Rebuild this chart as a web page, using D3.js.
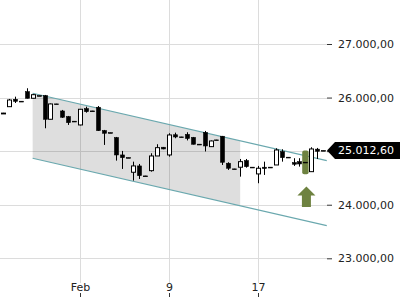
<!DOCTYPE html>
<html>
<head>
<meta charset="utf-8">
<script src="https://cdn.jsdelivr.net/npm/d3@7/dist/d3.min.js"></script>
<style>
  html, body { margin: 0; padding: 0; background: #fff; }
  svg { display: block; font-family: 'DejaVu Sans', sans-serif; }
</style>
</head>
<body>
<div id="chart"></div>
<script>
// candle data (one entry per period)
const opens  = [25705, 25830, 25968, 25932, 26110, 25987, 26037, 26036, 25595, 25882,
                25750, 25644, 25559, 25489, 25793, 25751, 25819, 25383, 25346, 25252,
                24929, 24880, 24606, 24724, 24538, 24636, 24910, 25073, 24929, 25306,
                25266, 25312, 25256, 25130, 25349, 25084, 25210, 25278, 24774, 24669,
                24700, 24823, 24701, 24575, 24700, 24701, 24742, 24991, 24887, 24785,
                24804, 24794, 24617, 25037, 25013]
const closes = [25710, 25955, 25931, 25930, 25987, 26054, 26035, 25595, 25881, 25880,
                25633, 25532, 25557, 25782, 25737, 25749, 25383, 25334, 25344, 24929,
                24879, 24878, 24724, 24543, 24536, 24910, 25065, 25041, 25302, 25265,
                25264, 25237, 25129, 25128, 25097, 25190, 25208, 24793, 24681, 24667,
                24804, 24711, 24699, 24681, 24677, 24699, 25022, 24879, 24885, 24756,
                24761, 24792, 25041, 24998, 25012.6]
const highs  = [25715, 25974, 26017, 25934, 26174, 26067, 26039, 26049, 25890, 25884,
                25769, 25657, 25561, 25787, 25830, 25753, 25843, 25396, 25348, 25265,
                25004, 24882, 24804, 24761, 24540, 24961, 25129, 25078, 25334, 25345,
                25268, 25353, 25265, 25132, 25377, 25200, 25212, 25284, 24793, 24671,
                24854, 24854, 24703, 24724, 24804, 24703, 25054, 25035, 24889, 24868,
                24868, 24796, 25073, 25060, 25015]
const lows   = [25700, 25825, 25899, 25928, 25983, 25983, 26033, 25427, 25592, 25878,
                25620, 25489, 25555, 25480, 25718, 25747, 25377, 25116, 25342, 24823,
                24668, 24876, 24450, 24481, 24534, 24617, 24910, 25035, 24897, 25241,
                25262, 25200, 25125, 25126, 24994, 25078, 25206, 24742, 24649, 24665,
                24524, 24692, 24697, 24401, 24556, 24697, 24742, 24804, 24883, 24724,
                24711, 24790, 24617, 24854, 25010]

// x axis labels at candle indices
const xTickIndex = [13, 28, 43]
const xTickLabels = ['Feb', '9', '17']

// y axis ticks
const yTicks = [23000, 24000, 25000, 26000, 27000]
const lastPrice = 25012.6

// trend channel: [startIndex, endIndex] and values at both ends
const channelIndex = [5, 54.6]
const channelUpper = [26080, 24823]
const channelLower = [24867, 23610]
const shadeIndex = [5, 40]

// highlight signal
const signalIndex = 51
const signalBar = [24570, 25010]
const signalArrow = [23959, 24341]

const width = 400
const height = 300

const svg = d3.select('#chart')
  .append('svg')
  .attr('width', width)
  .attr('height', height)

const x = d3.scaleLinear().domain([0, 54]).range([3, 323.2])
const y = d3.scaleLinear().domain([23000, 27000]).range([258.3, 44])

const deLocale = d3.formatLocale({ decimal: ',', thousands: '.', grouping: [3], currency: ['', '€'] })
const fmt = deLocale.format(',.2f')

const plotRight = 327

// grid
const grid = svg.append('g').attr('stroke', '#dcdcdc').attr('stroke-width', 1)
grid.selectAll('line.h')
  .data(yTicks)
  .join('line')
  .attr('class', 'h')
  .attr('x1', 0)
  .attr('x2', plotRight)
  .attr('y1', d => Math.round(y(d)) + 0.5)
  .attr('y2', d => Math.round(y(d)) + 0.5)
grid.selectAll('line.v')
  .data(xTickIndex)
  .join('line')
  .attr('class', 'v')
  .attr('x1', d => Math.round(x(d)) + 0.5)
  .attr('x2', d => Math.round(x(d)) + 0.5)
  .attr('y1', 0)
  .attr('y2', 283)

// channel lines helper
const lineAt = (vals, i) => vals[0] + (vals[1] - vals[0]) * (i - channelIndex[0]) / (channelIndex[1] - channelIndex[0])

// shaded part of the channel
const shadePts = [
  [shadeIndex[0], lineAt(channelUpper, shadeIndex[0])],
  [shadeIndex[1], lineAt(channelUpper, shadeIndex[1])],
  [shadeIndex[1], lineAt(channelLower, shadeIndex[1])],
  [shadeIndex[0], lineAt(channelLower, shadeIndex[0])]
]
svg.append('path')
  .attr('d', 'M' + shadePts.map(p => [x(p[0]), y(p[1])].join(',')).join('L') + 'Z')
  .attr('fill', 'rgba(0,0,0,0.13)')

svg.selectAll('line.channel')
  .data([channelUpper, channelLower])
  .join('line')
  .attr('class', 'channel')
  .attr('x1', x(channelIndex[0]))
  .attr('x2', x(channelIndex[1]))
  .attr('y1', d => y(d[0]))
  .attr('y2', d => y(d[1]))
  .attr('stroke', '#6aa8ae')
  .attr('stroke-width', 1.2)

// signal bar
svg.append('rect')
  .attr('x', x(signalIndex) - 3.2)
  .attr('width', 6.4)
  .attr('y', y(signalBar[1]))
  .attr('height', y(signalBar[0]) - y(signalBar[1]))
  .attr('rx', 2)
  .attr('fill', '#6e8240')

// candles
const candles = d3.range(opens.length).map(i => ({
  i, o: opens[i], c: closes[i], h: highs[i], l: lows[i]
}))
const bw = 4

const cg = svg.append('g')
cg.selectAll('line.wick')
  .data(candles)
  .join('line')
  .attr('class', 'wick')
  .attr('x1', d => Math.round(x(d.i)) + 0.5)
  .attr('x2', d => Math.round(x(d.i)) + 0.5)
  .attr('y1', d => y(d.h))
  .attr('y2', d => y(d.l))
  .attr('stroke', '#000')
  .attr('stroke-width', 1)

cg.selectAll('rect.body')
  .data(candles)
  .join('rect')
  .attr('class', 'body')
  .attr('x', d => Math.round(x(d.i)) + 0.5 - bw / 2)
  .attr('width', bw)
  .attr('y', d => y(Math.max(d.o, d.c)))
  .attr('height', d => Math.max(0.8, Math.abs(y(d.o) - y(d.c))))
  .attr('fill', d => d.c > d.o ? '#fff' : '#000')
  .attr('stroke', '#000')
  .attr('stroke-width', d => d.c > d.o ? 1 : 0.6)

// signal arrow
const ax = x(signalIndex) + 1
const aTop = y(signalArrow[1])
const aBot = y(signalArrow[0])
svg.append('path')
  .attr('d', `M${ax},${aTop} L${ax + 9},${aTop + 9} L${ax + 4.5},${aTop + 9} L${ax + 4.5},${aBot} L${ax - 4.5},${aBot} L${ax - 4.5},${aTop + 9} L${ax - 9},${aTop + 9} Z`)
  .attr('fill', '#6e8240')

// y axis
const yAxis = d3.axisRight(y)
  .tickValues(yTicks)
  .tickSize(5)
  .tickPadding(6)
  .tickFormat(fmt)
const yg = svg.append('g')
  .attr('transform', `translate(${plotRight},0)`)
  .call(yAxis)
yg.select('.domain').remove()
yg.selectAll('line').attr('stroke', '#333')
yg.selectAll('text')
  .attr('font-family', "'DejaVu Sans', sans-serif")
  .attr('font-size', 11)
  .attr('fill', '#222')

// x axis labels
const xg = svg.append('g')
xg.selectAll('text')
  .data(xTickIndex)
  .join('text')
  .attr('x', d => Math.round(x(d)) + 0.5)
  .attr('y', 291)
  .attr('text-anchor', 'middle')
  .attr('font-size', 11)
  .attr('fill', '#222')
  .text((d, k) => xTickLabels[k])
xg.selectAll('line')
  .data(xTickIndex)
  .join('line')
  .attr('x1', d => Math.round(x(d)) + 0.5)
  .attr('x2', d => Math.round(x(d)) + 0.5)
  .attr('y1', 293)
  .attr('y2', 297)
  .attr('stroke', '#333')

// last price label
const ly = y(lastPrice)
const lbl = svg.append('g')
lbl.append('path')
  .attr('d', `M${plotRight},${ly} L${plotRight + 8},${ly - 8.5} L${width},${ly - 8.5} L${width},${ly + 8.5} L${plotRight + 8},${ly + 8.5} Z`)
  .attr('fill', '#000')
lbl.append('text')
  .attr('x', 338)
  .attr('y', ly)
  .attr('dy', '0.35em')
  .attr('font-size', 11)
  .attr('fill', '#fff')
  .text(fmt(lastPrice))
</script>
</body>
</html>
